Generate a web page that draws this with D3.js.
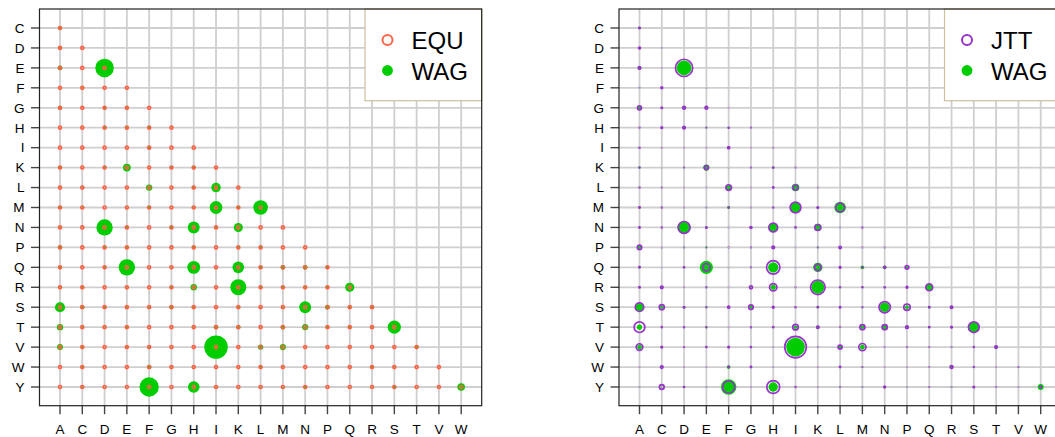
<!DOCTYPE html>
<html lang="en">
<head>
    <meta charset="utf-8">
    <title>Exchangeabilities</title>
    <script type="text/javascript" src="https://d3js.org/d3.v7.min.js"></script>
    <style>
        body { margin: 0; background: #fff; }
        text { font-family: "Liberation Sans", Arial, sans-serif; fill: #000; }
        .grid { stroke: #cfcfcf; stroke-width: 1.8; }
        .tick { stroke: #444; stroke-width: 1.4; }
        .box { fill: none; stroke: #222; stroke-width: 1.2; }
        .legend-box { fill: #fff; stroke: #cdbf9e; stroke-width: 1.2; }
        .axis-label { font-size: 13.5px; }
        .legend-label { font-size: 24px; }
    </style>
</head>
<body>
<div id="container"></div>
<script type="text/javascript">
    const w = 1055;
    const h = 437;

    // amino acids in plot order
    const aminoAcids = ["A", "C", "D", "E", "F", "G", "H", "I", "K", "L", "M", "N", "P", "Q", "R", "S", "T", "V", "W", "Y"];
    const xLabels = aminoAcids.slice(0, 19);
    const yLabels = aminoAcids.slice(1);

    // matrices are stored as lower triangles in this order
    const matrixOrder = ["A", "R", "N", "D", "C", "Q", "E", "G", "H", "I", "L", "K", "M", "F", "P", "S", "T", "W", "Y", "V"];

    const wagRows = [
        [0.55],
        [0.51, 0.64],
        [0.74, 0.15, 5.43],
        [1.03, 0.53, 0.27, 0.03],
        [0.91, 3.04, 1.54, 0.62, 0.10],
        [1.58, 0.44, 0.95, 6.17, 0.02, 5.47],
        [1.42, 0.58, 1.13, 0.87, 0.31, 0.33, 0.57],
        [0.32, 2.14, 3.96, 0.93, 0.25, 4.29, 0.57, 0.25],
        [0.19, 0.19, 0.55, 0.04, 0.17, 0.11, 0.13, 0.03, 0.14],
        [0.40, 0.50, 0.13, 0.08, 0.38, 0.87, 0.15, 0.06, 0.50, 3.17],
        [0.91, 5.35, 3.01, 0.48, 0.07, 3.89, 2.58, 0.37, 0.89, 0.32, 0.26],
        [0.89, 0.68, 0.20, 0.10, 0.39, 1.55, 0.32, 0.17, 0.40, 4.26, 4.85, 0.93],
        [0.21, 0.10, 0.10, 0.05, 0.40, 0.10, 0.08, 0.05, 0.68, 1.06, 2.12, 0.09, 1.19],
        [1.44, 0.68, 0.20, 0.42, 0.11, 0.93, 0.68, 0.24, 0.70, 0.10, 0.42, 0.56, 0.17, 0.16],
        [3.37, 1.22, 3.97, 1.07, 1.41, 1.03, 0.70, 1.34, 0.74, 0.32, 0.34, 0.97, 0.49, 0.55, 1.61],
        [2.12, 0.55, 2.03, 0.37, 0.51, 0.86, 0.82, 0.23, 0.47, 1.46, 0.33, 1.39, 1.52, 0.17, 0.80, 4.38],
        [0.11, 1.16, 0.07, 0.13, 0.72, 0.22, 0.16, 0.34, 0.26, 0.21, 0.67, 0.14, 0.52, 1.53, 0.14, 0.52, 0.11],
        [0.24, 0.38, 1.09, 0.33, 0.54, 0.23, 0.20, 0.10, 3.87, 0.42, 0.40, 0.13, 0.43, 6.45, 0.22, 0.79, 0.29, 2.49],
        [2.01, 0.25, 0.20, 0.15, 1.00, 0.30, 0.59, 0.19, 0.12, 7.82, 1.80, 0.31, 2.06, 0.65, 0.31, 0.23, 1.39, 0.37, 0.31]
    ];

    const jttRows = [
        [58],
        [54, 45],
        [81, 16, 528],
        [56, 113, 34, 10],
        [57, 310, 86, 49, 9],
        [105, 29, 58, 767, 5, 323],
        [179, 137, 81, 130, 59, 26, 119],
        [27, 328, 391, 112, 69, 597, 26, 23],
        [36, 22, 47, 11, 17, 9, 12, 6, 16],
        [30, 38, 12, 7, 23, 72, 9, 6, 56, 229],
        [35, 646, 263, 26, 7, 292, 181, 27, 45, 21, 14],
        [54, 44, 30, 15, 31, 43, 18, 14, 33, 479, 388, 65],
        [15, 5, 10, 4, 78, 4, 5, 5, 40, 89, 248, 4, 43],
        [194, 74, 15, 15, 14, 164, 18, 24, 115, 10, 102, 21, 16, 17],
        [378, 101, 503, 59, 223, 53, 30, 201, 73, 40, 59, 47, 29, 92, 285],
        [475, 64, 232, 38, 42, 51, 32, 33, 46, 245, 25, 103, 226, 12, 118, 477],
        [9, 126, 8, 4, 115, 18, 10, 55, 8, 9, 52, 10, 24, 53, 6, 35, 12],
        [11, 20, 70, 46, 209, 24, 7, 8, 573, 32, 24, 8, 18, 536, 10, 63, 21, 71],
        [298, 17, 16, 31, 62, 20, 45, 47, 11, 961, 180, 14, 323, 62, 23, 38, 112, 25, 16]
    ];

    const equValue = 1;

    const panels = [
        {left: 39.5, name: "EQU", color: "tomato", rows: null, compRadius: [0, 1.5], wagRadius: [0, 1.5]},
        {left: 619, name: "JTT", color: "darkorchid", rows: jttRows, compRadius: [0, 0.01124], wagRadius: [0, 1.2]}
    ];

    function lookup(rows, a, b) {
        let i = matrixOrder.indexOf(a), j = matrixOrder.indexOf(b);
        if (i < j) [i, j] = [j, i];
        return rows[i - 1][j];
    }

    const cells = [];
    yLabels.forEach(function (r, k) {
        xLabels.slice(0, k + 1).forEach(function (c) {
            cells.push({row: r, col: c});
        });
    });

    const svg = d3.select("div#container").append("svg")
        .attr("width", w).attr("height", h)
        .style("display", "block");

    const boxW = 442.2, boxH = 396.7, plotTop = 9;
    const pad = 20.5;

    panels.forEach(function (p) {
        const g = svg.append("g");
        const x = d3.scalePoint().domain(xLabels).range([p.left + pad, p.left + boxW - pad]);
        const y = d3.scalePoint().domain(yLabels).range([plotTop + 19, plotTop + boxH - 18.7]);
        const rWag = d3.scaleLinear().domain([0, 1]).range(p.wagRadius);
        const rComp = d3.scaleLinear().domain([0, 1]).range(p.compRadius);
        const compValue = d => p.rows ? lookup(p.rows, d.row, d.col) : equValue;

        // grid
        g.selectAll(".gx").data(xLabels).enter().append("line")
            .attr("class", "grid")
            .attr("x1", d => x(d)).attr("x2", d => x(d))
            .attr("y1", plotTop).attr("y2", plotTop + boxH);
        g.selectAll(".gy").data(yLabels).enter().append("line")
            .attr("class", "grid")
            .attr("x1", p.left).attr("x2", p.left + boxW)
            .attr("y1", d => y(d)).attr("y2", d => y(d));

        // WAG filled circles
        g.selectAll(".wag").data(cells).enter().append("circle")
            .attr("cx", d => x(d.col)).attr("cy", d => y(d.row))
            .attr("r", d => rWag(lookup(wagRows, d.row, d.col)))
            .attr("fill", "#00cd00");

        // comparison matrix as open circles
        g.selectAll(".comp").data(cells).enter().append("circle")
            .attr("cx", d => x(d.col)).attr("cy", d => y(d.row))
            .attr("r", d => Math.max(0.1, rComp(compValue(d))))
            .attr("fill", "none")
            .attr("stroke", p.color)
            .attr("stroke-width", 1.7);

        // axes ticks and labels
        g.selectAll(".ty").data(yLabels).enter().append("line")
            .attr("class", "tick")
            .attr("x1", p.left - 8.5).attr("x2", p.left)
            .attr("y1", d => y(d)).attr("y2", d => y(d));
        g.selectAll(".ly").data(yLabels).enter().append("text")
            .attr("class", "axis-label")
            .attr("x", p.left - 15).attr("y", d => y(d) + 4.8)
            .attr("text-anchor", "end")
            .text(d => d);
        g.selectAll(".tx").data(xLabels).enter().append("line")
            .attr("class", "tick")
            .attr("x1", d => x(d)).attr("x2", d => x(d))
            .attr("y1", plotTop + boxH).attr("y2", plotTop + boxH + 8.5);
        g.selectAll(".lx").data(xLabels).enter().append("text")
            .attr("class", "axis-label")
            .attr("x", d => x(d)).attr("y", 433.5)
            .attr("text-anchor", "middle")
            .text(d => d);

        // legend
        const lx = p.left + boxW - 116.7;
        g.append("rect").attr("class", "legend-box")
            .attr("x", lx).attr("y", plotTop).attr("width", 116.7).attr("height", 91.7);
        g.append("circle").attr("cx", lx + 22.5).attr("cy", 40).attr("r", 5)
            .attr("fill", "none").attr("stroke", p.color).attr("stroke-width", 2);
        g.append("circle").attr("cx", lx + 22.5).attr("cy", 70.5).attr("r", 5.4)
            .attr("fill", "#00cd00");
        g.append("text").attr("class", "legend-label")
            .attr("x", lx + 46.5).attr("y", 48.5).text(p.name);
        g.append("text").attr("class", "legend-label")
            .attr("x", lx + 46.5).attr("y", 79.5).text("WAG");

        // frame
        g.append("rect").attr("class", "box")
            .attr("x", p.left).attr("y", plotTop).attr("width", boxW).attr("height", boxH);
    });
</script>
</body>
</html>
